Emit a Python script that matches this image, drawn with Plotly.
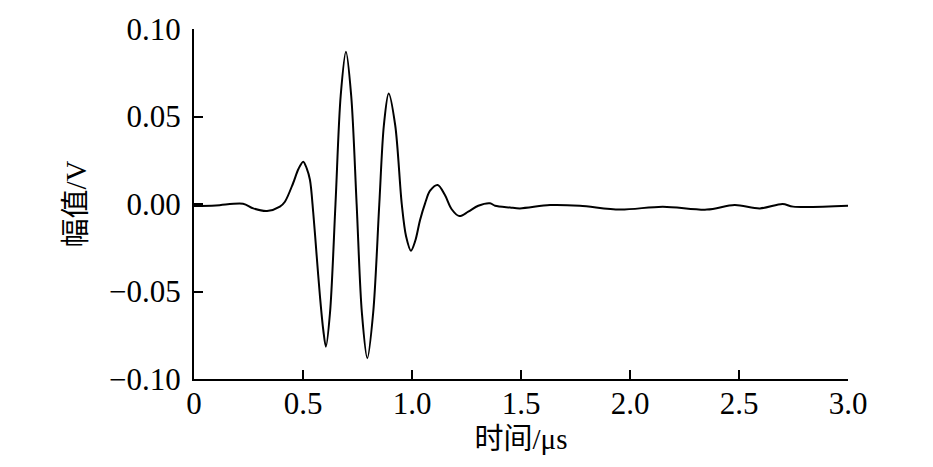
import plotly.graph_objects as go

# time (µs) and amplitude (V)
time_us = [0.0, 0.1, 0.225, 0.272, 0.335, 0.394, 0.417, 0.455, 0.479, 0.501, 0.517,
           0.532, 0.547, 0.563, 0.578, 0.593, 0.605, 0.624, 0.649, 0.673, 0.697,
           0.721, 0.746, 0.770, 0.795, 0.822, 0.850, 0.871, 0.893, 0.923, 0.953,
           0.973, 0.995, 1.015, 1.037, 1.060, 1.083, 1.118, 1.151, 1.182, 1.217,
           1.258, 1.304, 1.358, 1.381, 1.45, 1.495, 1.633, 1.77, 1.954, 2.15, 2.353,
           2.48, 2.596, 2.70, 2.748, 3.0]
amplitude_v = [-0.0011, -0.0008, 0.0002, -0.0025, -0.004, -0.0015, 0.0013, 0.012,
               0.020, 0.0242, 0.0204, 0.0137, -0.005, -0.030, -0.053, -0.072, -0.0815,
               -0.062, 0.0, 0.062, 0.087, 0.062, 0.0, -0.062, -0.0881, -0.062, 0.0,
               0.045, 0.0632, 0.045, 0.0, -0.0186, -0.0267, -0.021, -0.0091, 0.0004,
               0.0076, 0.0109, 0.0051, -0.003, -0.0069, -0.0044, -0.001, 0.0004,
               -0.001, -0.002, -0.0025, -0.0006, -0.001, -0.0032, -0.0015, -0.0032,
               -0.0006, -0.0025, 0.0, -0.0015, -0.001]

x_tick_vals = [0, 0.5, 1.0, 1.5, 2.0, 2.5, 3.0]
x_tick_text = ["0", "0.5", "1.0", "1.5", "2.0", "2.5", "3.0"]
y_tick_vals = [-0.10, -0.05, 0.0, 0.05, 0.10]
y_tick_text = ["\u22120.10", "\u22120.05", "0.00", "0.05", "0.10"]

x_title = "时间/μs"
y_title = "幅值/V"

serif = "Liberation Serif, DejaVu Serif, serif"
cjk = "Liberation Serif, Noto Sans CJK SC, serif"

fig = go.Figure()
fig.add_trace(go.Scatter(
    x=time_us, y=amplitude_v, mode="lines",
    line=dict(color="black", width=2, shape="spline", smoothing=0.9),
    showlegend=False, hoverinfo="skip",
))

fig.update_layout(
    width=933, height=467,
    margin=dict(l=186, r=93, t=21, b=96),
    paper_bgcolor="white", plot_bgcolor="white",
    font=dict(family=serif, color="black", size=31),
)
fig.update_xaxes(
    range=[0, 3.0], tickvals=x_tick_vals, ticktext=x_tick_text,
    showline=True, linecolor="black", linewidth=2,
    ticks="inside", ticklen=9, tickwidth=2, tickcolor="black",
    showgrid=False, zeroline=False, mirror=False, automargin=False,
    ticklabelstandoff=-4,
    tickfont=dict(family=serif, size=31, color="black"),
    title=dict(text=x_title, font=dict(family=cjk, size=29, color="black"), standoff=8),
)
fig.update_yaxes(
    range=[-0.1, 0.1], tickvals=y_tick_vals, ticktext=y_tick_text,
    showline=True, linecolor="black", linewidth=2,
    ticks="inside", ticklen=9, tickwidth=2, tickcolor="black",
    showgrid=False, zeroline=False, mirror=False, automargin=False,
    ticklabelstandoff=5,
    tickfont=dict(family=serif, size=31, color="black"),
    title=dict(text=y_title, font=dict(family=cjk, size=29, color="black"), standoff=14),
)

fig.write_html("out.html")
